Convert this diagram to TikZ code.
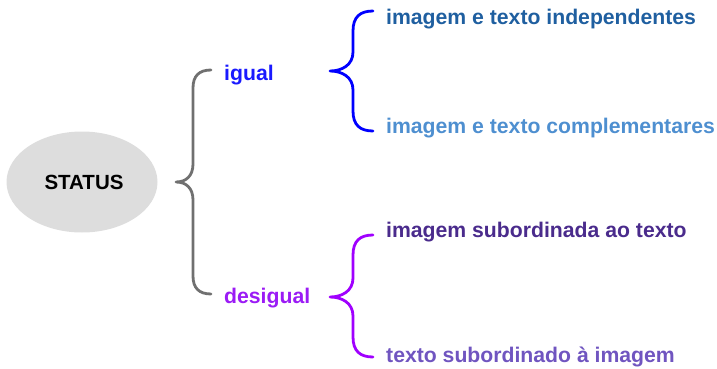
\documentclass[tikz,border=0pt]{standalone}
\usepackage{fontspec}
\setmainfont{Liberation Sans}
\usetikzlibrary{shapes.geometric}
\definecolor{ellgray}{HTML}{DDDDDD}
\definecolor{bracegray}{HTML}{707070}
\definecolor{igualc}{HTML}{1A1AFF}
\definecolor{desigc}{HTML}{9B1BF5}
\definecolor{bblue}{HTML}{0000FF}
\definecolor{bpurple}{HTML}{A000FF}
\definecolor{indc}{HTML}{1F5FA0}
\definecolor{compc}{HTML}{4E8FD0}
\definecolor{subc}{HTML}{4A2B8C}
\definecolor{txtc}{HTML}{7055C0}
\tikzset{
  lbl/.style={anchor=base west, inner sep=0pt, font=\fontsize{21.2}{24}\selectfont\bfseries},
  brace/.style={line width=2.8pt, line cap=round, line join=round},
}
\begin{document}
\begin{tikzpicture}[x=1pt,y=-1pt]
\useasboundingbox (0,0) rectangle (717,369);
% central ellipse
\node[ellipse, fill=ellgray, minimum width=151pt, minimum height=101pt, inner sep=0pt] (status) at (82,182) {};
\node[inner sep=0pt, font=\fontsize{20.5}{23}\selectfont\bfseries] (statustxt) at (84,182) {STATUS};
% level 1 labels
\node[lbl, text=igualc] (igual) at (224,80) {igual};
\node[lbl, text=desigc] (desigual) at (224,303) {desigual};
% level 2 labels
\node[lbl, text=indc] (ind) at (386,25) {imagem e texto independentes};
\node[lbl, text=compc] (comp) at (386,133) {imagem e texto complementares};
\node[lbl, text=subc] (sub) at (386,237) {imagem subordinada ao texto};
\node[lbl, text=txtc] (txt) at (386,362) {texto subordinado à imagem};
% brace coordinates
\coordinate (g0) at (176,182);
\coordinate (g1) at (211,70);
\coordinate (g2) at (211,294);
\coordinate (b0) at (330,71);
\coordinate (b1) at (373,11);
\coordinate (b2) at (373,131);
\coordinate (p0) at (330,297);
\coordinate (p1) at (373,235);
\coordinate (p2) at (373,357);
% gray brace
\draw[brace, bracegray] (g1) .. controls (199,70) and (193,76) .. (193,88)
  -- (193,164) .. controls (193,176) and (186,182) .. (g0)
  .. controls (186,182) and (193,188) .. (193,200)
  -- (193,276) .. controls (193,288) and (199,294) .. (g2);
% blue brace
\draw[brace, bblue] (b1) .. controls (360,11) and (353,17) .. (353,31)
  -- (353,52) .. controls (353,65) and (342,71) .. (b0)
  .. controls (342,71) and (353,77) .. (353,90)
  -- (353,111) .. controls (353,125) and (360,131) .. (b2);
% purple brace
\draw[brace, bpurple] (p1) .. controls (360,235) and (353,241) .. (353,255)
  -- (353,278) .. controls (353,291) and (342,297) .. (p0)
  .. controls (342,297) and (353,303) .. (353,316)
  -- (353,337) .. controls (353,351) and (360,357) .. (p2);
\end{tikzpicture}
\end{document}
